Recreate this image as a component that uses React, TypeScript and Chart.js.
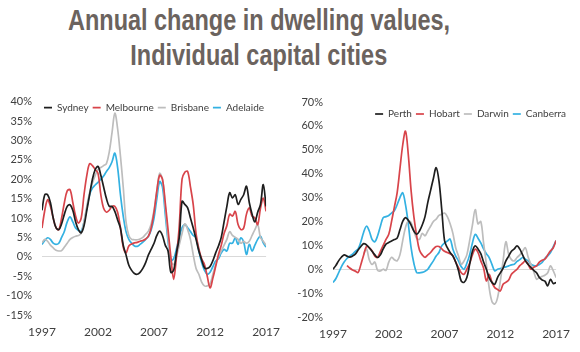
import React, { useEffect, useLayoutEffect, useRef } from 'react';
import { Chart, registerables } from 'chart.js';

Chart.register(...registerables);

// Quarterly observation dates, 1997 Q1 .. 2017 Q1
const quarters: number[] = [];
for (let y = 1997; y < 2017; y++) for (let q = 0; q < 4; q++) quarters.push(y + q / 4);
quarters.push(2017);

const yearTicks = [1997, 2002, 2007, 2012, 2017];

const titleLines = ['Annual change in dwelling values,', 'Individual capital cities'];
const leftNames = ['Sydney', 'Melbourne', 'Brisbane', 'Adelaide'];
const rightNames = ['Perth', 'Hobart', 'Darwin', 'Canberra'];

// Annual change in dwelling values, % (quarterly readings)
const sydney = [
  12, 16, 16, 14,
  10, 7.5, 7, 8.5,
  11, 13, 13.4, 12,
  9, 7, 6.2, 8,
  12, 16, 20, 22.5,
  23.3, 21, 18, 15,
  13, 13, 11.7, 9.5,
  7.4, 3, 0.5, -2.2,
  -3.5, -4.3, -4.5, -4,
  -3, -1.5, 0.5, 2,
  3.5, 5.5, 6.6, 5.5,
  3, 1.5, -4, -3.5,
  1, 5, 14.3, 13.5,
  12.6, 10, 7.4, 4.5,
  1.5, -0.8, -2.8, -3,
  -2.5, -1, 1, 2.8,
  5, 9, 13, 16.5,
  15.2, 16, 13.5, 14.8,
  16, 18.2, 14, 11,
  9, 11.5, 13.5, 18.6,
  13,
];

const melbourne = [
  7.4, 12, 14.7, 13,
  10, 7.5, 7, 10,
  14, 17, 17.3, 14,
  10.5, 8.7, 10, 16,
  21, 24, 23.5, 22.5,
  21.5, 16, 12.5, 11.5,
  12, 13, 13, 11.5,
  7.5, 2.5, 1, 2.8,
  3.3, 3.6, 3.7, 4,
  4.2, 4.6, 5.3, 7.5,
  11.5, 17, 21, 20,
  14, 7, 0, -5.8,
  0, 8, 20, 21.8,
  22, 18, 13.4, 6,
  2, -0.5, -2, -5,
  -8, -5.5, -2.5, 0.6,
  3, 6, 8, 11,
  10.5, 11.7, 8.3, 7,
  7.4, 11, 12.6, 10.5,
  10, 8.3, 12.5, 15.1,
  11.7,
];

const brisbane = [
  3.6, 4.5, 4, 3,
  2.3, 1.7, 1.5, 1.6,
  2.5, 3.5, 4.5, 5,
  5.3, 5.5, 6, 9,
  13, 16.5, 19, 21,
  22.5, 23, 23.5, 24,
  27, 32, 37, 33,
  26, 18, 9, 5.5,
  4.5, 4.4, 4.4, 4.6,
  5, 5.8, 6.6, 8.5,
  12, 17, 21.5, 20,
  13, 5, -1, -2,
  0, 3, 6, 8.5,
  7, 4.5, 0.5, -3,
  -4.5, -6.5, -7.5, -7.5,
  -7, -4.5, -2, 0,
  1.5, 3, 4.5, 6.5,
  5.5, 5, 4.5, 3.5,
  4, 3.5, 4, 5.5,
  7, 8.3, 5, 4,
  3,
];

const adelaide = [
  3.2, 4.2, 4.9, 4.5,
  3.5, 3.2, 3.5, 5,
  6.6, 9, 10.3, 9,
  7.4, 6.8, 6.6, 9,
  12.5, 16, 17.7, 18.5,
  19.2, 20, 20.8, 22,
  23, 24.5, 26.7, 23,
  16, 10.5, 6.5, 4.5,
  3.5, 2.8, 2.7, 3.2,
  3.8, 4.5, 5.3, 7,
  10, 15, 19.4, 18,
  11, 4, -1, -0.5,
  2, 5, 7.5, 8.3,
  7.5, 6.5, 5.5, 4.9,
  1.5, -1.5, -3.5, -4.5,
  -4, -2.5, -1.1, -0.5,
  1, 1.9, 1.5, 3.5,
  3.5, 4.9, 3.2, 4.9,
  3.8, 0.6, 3.2, 1.5,
  3, 4.5, 5.3, 3.6,
  2.5,
];

const perth = [
  0, 1.5, 3.5, 5,
  6, 5.5, 5.1, 5.5,
  6.3, 8, 9.5, 10.7,
  10.2, 9, 7.5, 6,
  4.9, 6, 8.5, 10.5,
  11.2, 11.8, 12.4, 13,
  16.5, 20, 21.6, 20.5,
  18.5, 16, 14.6, 16,
  18.5, 22, 28, 33,
  38, 42.5, 37, 25,
  12, 9, 7, 5.5,
  3, -0.5, -5, -5.5,
  -3.5, 2, 7.5, 9.8,
  8.5, 6.5, 3, 0,
  -3.5, -5.5, -6.3, -3.5,
  -1.5, 0.5, 3.5, 5.5,
  7.5, 8.5, 9.8, 8.4,
  6, 3.5, 2, 0.7,
  -0.5, -1.5, -3.5, -4.5,
  -5, -7, -4.2, -6,
  -5.6,
];

const hobart = [
  null, null, null, null,
  null, 1.5, 0.5, -0.3,
  -0.8, -1.4, 2, 6,
  9.5, 9, 7.7, 5.5,
  5, 7.5, 10, 12.5,
  14.6, 20, 26, 32,
  42, 52, 57.8, 48,
  33, 22, 14, 8,
  6, 5, 6, 7,
  8.5, 9.5, 9.5, 8.5,
  7.5, 7, 6.5, 5.6,
  3, 0.7, -1.5, -2.1,
  0, 2.5, 6, 8.4,
  7, 3.5, 0.5, -4.9,
  -2.1, -5.5, -7.7, -8.5,
  -9.1, -6.3, -5.5, -4.5,
  -2.1, -1, 0, 1.5,
  2.5, 3.5, 2, 0,
  0.8, 1.4, 3, 3.8,
  4.2, 6, 7.7, 9,
  12,
];

const darwin = [
  null, null, null, null,
  null, null, null, null,
  null, null, null, 6.3,
  8.5, 4, 2, 3,
  -0.5, -0.7, 0, -0.5,
  3, 5, 4, 3.5,
  6, 12, 17.5, 20.2,
  19.5, 16, 13, 12.5,
  15, 14, 16, 18,
  20, 21, 22.5, 23,
  23.5, 22, 19, 15,
  9, 5.5, 2.1, 3.5,
  6, 12, 18.5, 25,
  19, 20, 11, 2.1,
  -7.7, -13.5, -14.6, -12,
  -5, 3.5, 11.5, 6.3,
  4, 3.5, 4.9, 6,
  7.5, 9, 5, 2,
  -1, -4.2, -3.5, -3,
  -2.5, -1.5, 1.4, -0.7,
  -3.5,
];

const canberra = [
  -5.6, -4, -1.5, 1,
  3, 4.5, 5.5, 6.3,
  7.5, 8.5, 11.5, 15.5,
  18, 16, 12.5, 11.5,
  14, 18, 21.6, 22,
  22.5, 23.5, 24.5, 27,
  30, 32, 27, 19,
  9, 2.5, -1.4, -1.5,
  -1.3, -0.8, 0, 1.8,
  3.5, 5.5, 7, 9.8,
  11, 11.8, 12.6, 8.4,
  5.5, 3.5, 1, 0,
  2.5, 6, 11, 14.6,
  13, 11, 8.5, 6.5,
  4.9, 2, -0.7, 0,
  0.3, 0.7, 1, 1.4,
  1.8, 2.1, 3.3, 4,
  4.9, 4.2, 3.5, 2.1,
  1.5, 1.4, 2, 2.8,
  4.5, 5.6, 7, 9.5,
  12,
];

const lineColors = ['#1e1e1e', '#d8444a', '#bdbdbd', '#33b1e2'];
const TEXT = '#404040';
const FONT = 'Lato, "Open Sans", "Liberation Sans", sans-serif';

// Lets the legend sit inside the top of the plot area (no reserved space)
const overlayLegend = {
  id: 'overlayLegend',
  beforeLayout(chart: any) {
    const lg = chart.legend;
    if (lg && !lg.__ov) {
      const fit = lg.fit.bind(lg);
      lg.fit = function () {
        const mw = lg.maxWidth;
        lg.maxWidth = 1000; // keep all items on one row
        fit();
        lg.maxWidth = mw;
        lg.width = Math.min(lg.width, mw);
        lg.__h = lg.height;
        lg.height = 0;
      };
      lg.__ov = true;
    }
  },
  afterLayout(chart: any, _args: any, opts: any) {
    const lg = chart.legend;
    if (lg) {
      const h = (lg.__h || 20) + 10;
      const ca = chart.chartArea;
      lg.top = ca.top + (opts.dy || 0);
      lg.height = h;
      lg.bottom = lg.top + h;
      lg.left = ca.left - (opts.extraL || 0);
      lg.right = ca.right + (opts.extraR || 0);
      lg.width = lg.right - lg.left;
    }
  },
};

type Cfg = {
  yMin: number;
  yMax: number;
  step: number;
  yWidth: number;
  padTop: number;
  padRight: number;
  padBottom: number;
  align: 'start' | 'center' | 'end';
  legendDy: number;
  extraL: number;
  extraR: number;
};

function build(canvas: HTMLCanvasElement, names: string[], series: (number | null)[][], c: Cfg) {
  return new Chart(canvas, {
    type: 'line',
    data: {
      datasets: names.map((n, i) => ({
        label: n,
        data: series[i].map((v, j) => ({ x: quarters[j], y: v })),
        borderColor: lineColors[i],
        backgroundColor: lineColors[i],
        borderWidth: 1.7,
        pointRadius: 0,
        tension: 0.35,
        fill: false,
      })),
    },
    options: {
      responsive: false,
      animation: false,
      devicePixelRatio: 1,
      layout: { padding: { top: c.padTop, right: c.padRight, bottom: c.padBottom, left: 0 } },
      plugins: {
        legend: {
          position: 'top',
          align: c.align,
          fullSize: false,
          labels: {
            usePointStyle: true,
            pointStyle: 'line',
            pointStyleWidth: 8,
            padding: 4,
            color: TEXT,
            font: { family: FONT, size: 10 },
          },
        },
        tooltip: { enabled: false },
        overlayLegend: { dy: c.legendDy, extraL: c.extraL, extraR: c.extraR },
      } as any,
      scales: {
        x: {
          type: 'linear',
          min: 1997,
          max: 2017,
          grid: { display: false, drawTicks: false },
          border: { display: false },
          afterBuildTicks: (s: any) => {
            s.ticks = yearTicks.map((v) => ({ value: v }));
          },
          afterFit: (s: any) => {
            s.height = 24;
          },
          ticks: {
            color: TEXT,
            font: { family: FONT, size: 12 },
            padding: 10,
            maxRotation: 0,
            autoSkip: false,
            callback: (v: any) => String(v),
          },
        },
        y: {
          type: 'linear',
          min: c.yMin,
          max: c.yMax,
          grid: {
            color: (ctx: any) => (ctx.tick && ctx.tick.value === 0 ? '#d9d9d9' : 'rgba(0,0,0,0)'),
            drawTicks: false,
            lineWidth: 1,
          },
          border: { display: false },
          afterFit: (s: any) => {
            s.width = c.yWidth;
          },
          ticks: {
            stepSize: c.step,
            color: TEXT,
            font: { family: FONT, size: 11 },
            padding: 10,
            callback: (v: any) => v + '%',
          },
        },
      },
    },
    plugins: [overlayLegend as any],
  });
}

const TITLE_W = 382;

export default function App() {
  const leftRef = useRef<HTMLCanvasElement>(null);
  const rightRef = useRef<HTMLCanvasElement>(null);
  const t1 = useRef<HTMLSpanElement>(null);
  const t2 = useRef<HTMLSpanElement>(null);

  useLayoutEffect(() => {
    const w = t1.current ? t1.current.offsetWidth : TITLE_W;
    const s = w > 0 ? TITLE_W / w : 1;
    [t1.current, t2.current].forEach((el) => {
      if (el) el.style.transform = `scaleX(${s})`;
    });
  }, []);

  useEffect(() => {
    const a = build(leftRef.current!, leftNames, [sydney, melbourne, brisbane, adelaide], {
      yMin: -15, yMax: 40, step: 5, yWidth: 42,
      padTop: 16, padRight: 16, padBottom: 13, align: 'center', legendDy: -3,
      extraL: 20, extraR: 20,
    });
    const b = build(rightRef.current!, rightNames, [perth, hobart, darwin, canberra], {
      yMin: -20, yMax: 70, step: 10, yWidth: 43,
      padTop: 17, padRight: 14, padBottom: 11, align: 'end', legendDy: 3,
      extraL: 20, extraR: 14,
    });
    return () => {
      a.destroy();
      b.destroy();
    };
  }, []);

  const lineStyle: React.CSSProperties = {
    display: 'inline-block',
    transformOrigin: '50% 50%',
    whiteSpace: 'nowrap',
  };

  return (
    <div style={{ position: 'absolute', left: 0, top: 0, width: 580, height: 352, background: '#fff', overflow: 'hidden' }}>
      <div
        style={{
          position: 'absolute',
          left: 0,
          top: 3,
          width: 518,
          textAlign: 'center',
          fontFamily: '"Liberation Sans", Arial, sans-serif',
          fontWeight: 'bold',
          fontSize: 29,
          lineHeight: '35px',
          color: '#6b635e',
        }}
      >
        <div><span ref={t1} style={lineStyle}>{titleLines[0]}</span></div>
        <div><span ref={t2} style={lineStyle}>{titleLines[1]}</span></div>
      </div>
      <canvas ref={leftRef} width={290} height={267} style={{ position: 'absolute', left: 0, top: 85, width: 290, height: 267 }} />
      <canvas ref={rightRef} width={290} height={267} style={{ position: 'absolute', left: 290, top: 85, width: 290, height: 267 }} />
    </div>
  );
}
